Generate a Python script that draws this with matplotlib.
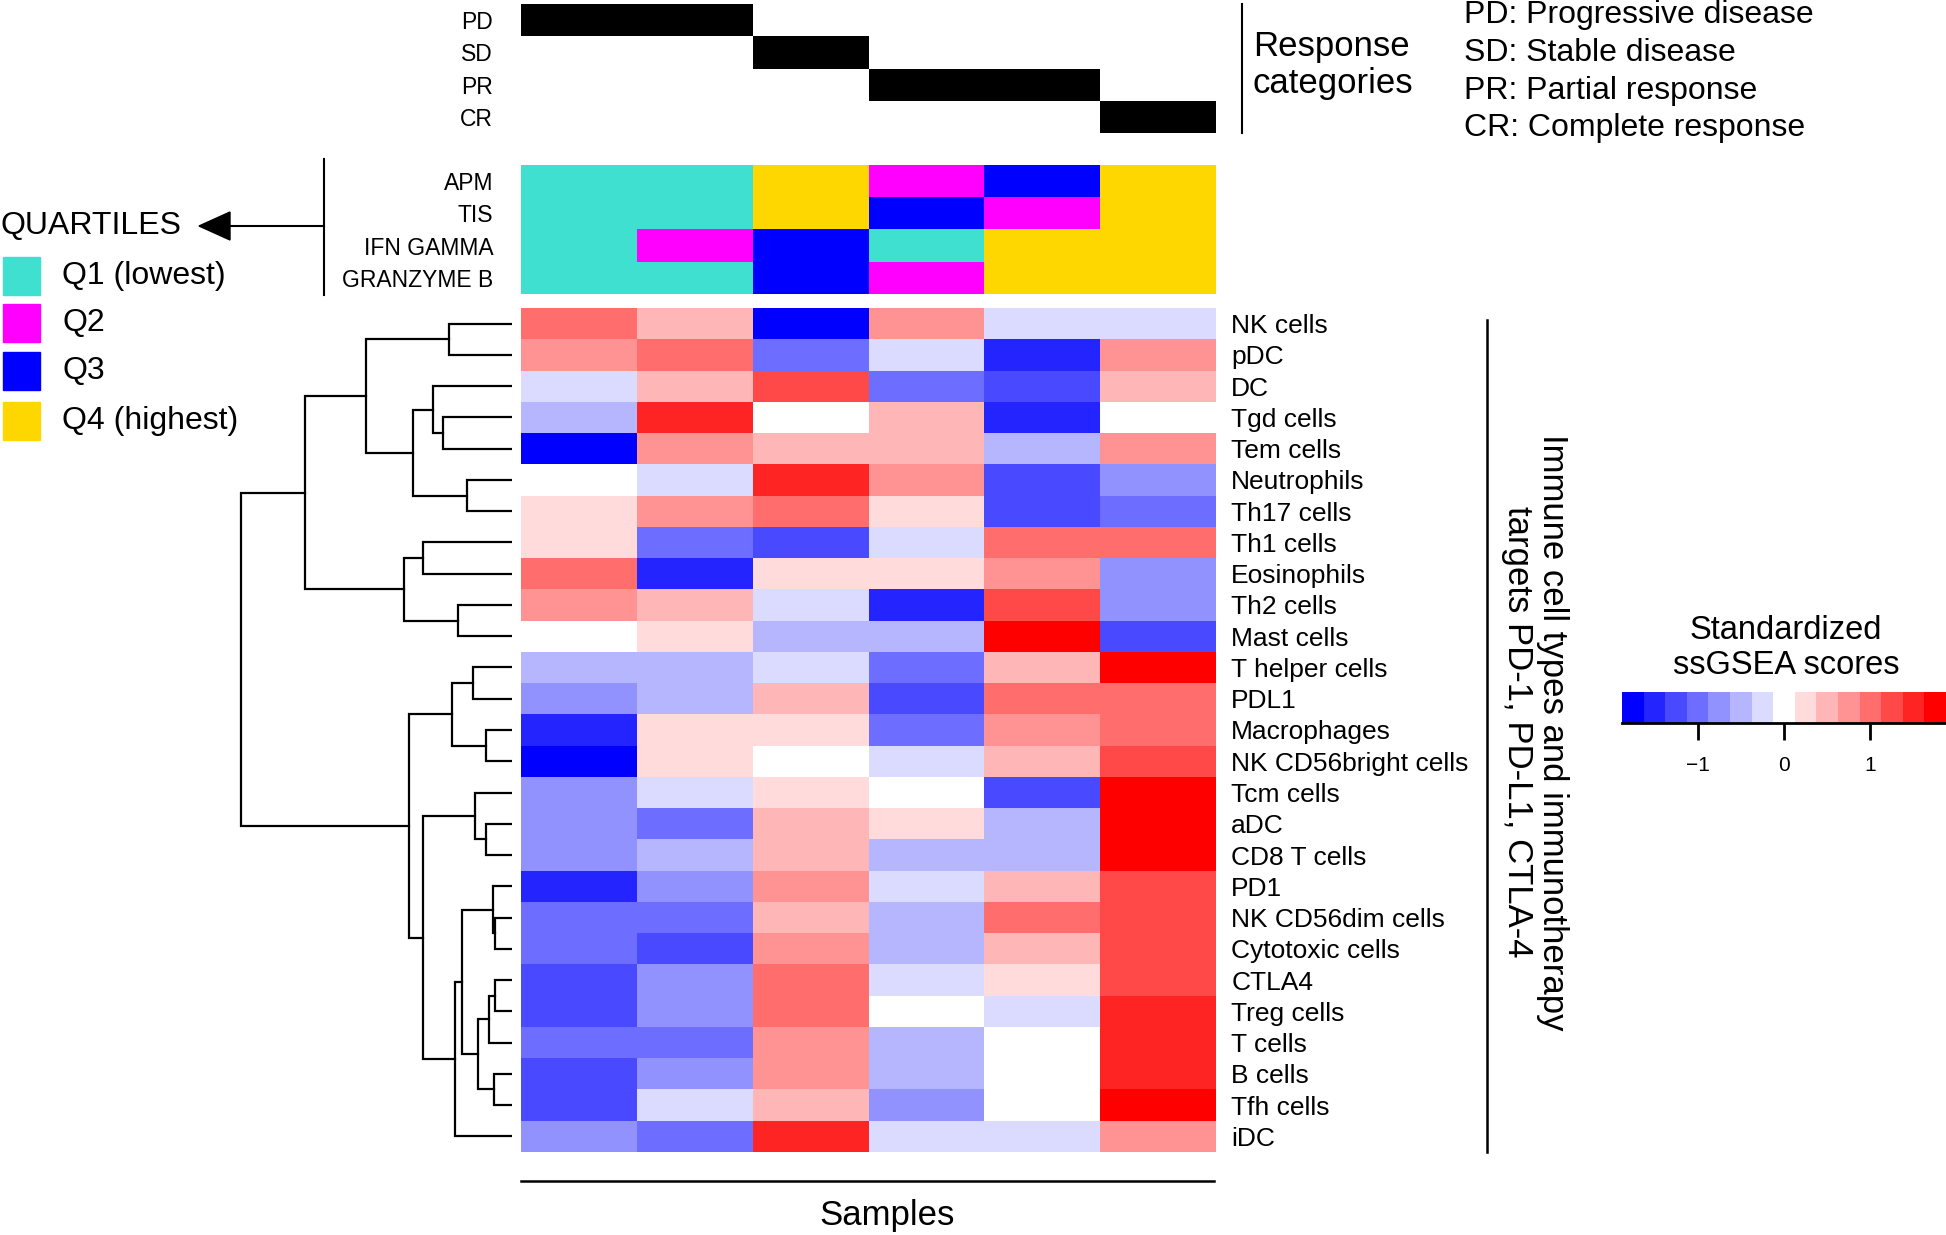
import matplotlib
matplotlib.use("Agg")
import matplotlib.pyplot as plt
import numpy as np
from matplotlib.colors import ListedColormap, BoundaryNorm, LinearSegmentedColormap
from matplotlib.patches import Rectangle, Polygon

plt.rcParams['font.family'] = ['Liberation Sans', 'DejaVu Sans']

W, H = 1946, 1235

# ---- data ----
cell_types = ["NK cells", "pDC", "DC", "Tgd cells", "Tem cells", "Neutrophils",
              "Th17 cells", "Th1 cells", "Eosinophils", "Th2 cells", "Mast cells",
              "T helper cells", "PDL1", "Macrophages", "NK CD56bright cells",
              "Tcm cells", "aDC", "CD8 T cells", "PD1", "NK CD56dim cells",
              "Cytotoxic cells", "CTLA4", "Treg cells", "T cells", "B cells",
              "Tfh cells", "iDC"]

response_codes = ["PD", "SD", "PR", "CR"]
response_names = ["Progressive disease", "Stable disease", "Partial response",
                  "Complete response"]
sample_response = ["PD", "PD", "SD", "PR", "PR", "CR"]

quartile_vars = ["APM", "TIS", "IFN GAMMA", "GRANZYME B"]
apm = [1, 1, 4, 2, 3, 4]
tis = [1, 1, 4, 3, 2, 4]
ifn_gamma = [1, 2, 3, 1, 4, 4]
granzyme_b = [1, 1, 3, 2, 4, 4]
quartile_labels = ["Q1 (lowest)", "Q2", "Q3", "Q4 (highest)"]
quartile_colors = ["#40E0D0", "#FF00FF", "#0000FF", "#FFD700"]

# standardized ssGSEA scores, rows = cell_types, cols = samples
scores = [
    [1.0, 0.5, -1.75, 0.75, -0.25, -0.25],
    [0.75, 1.0, -1.0, -0.25, -1.5, 0.75],
    [-0.25, 0.5, 1.25, -1.0, -1.25, 0.5],
    [-0.5, 1.5, 0.0, 0.5, -1.5, 0.0],
    [-1.75, 0.75, 0.5, 0.5, -0.5, 0.75],
    [0.0, -0.25, 1.5, 0.75, -1.25, -0.75],
    [0.25, 0.75, 1.0, 0.25, -1.25, -1.0],
    [0.25, -1.0, -1.25, -0.25, 1.0, 1.0],
    [1.0, -1.5, 0.25, 0.25, 0.75, -0.75],
    [0.75, 0.5, -0.25, -1.5, 1.25, -0.75],
    [0.0, 0.25, -0.5, -0.5, 1.75, -1.25],
    [-0.5, -0.5, -0.25, -1.0, 0.5, 1.75],
    [-0.75, -0.5, 0.5, -1.25, 1.0, 1.0],
    [-1.5, 0.25, 0.25, -1.0, 0.75, 1.0],
    [-1.75, 0.25, 0.0, -0.25, 0.5, 1.25],
    [-0.75, -0.25, 0.25, 0.0, -1.25, 1.75],
    [-0.75, -1.0, 0.5, 0.25, -0.5, 1.75],
    [-0.75, -0.5, 0.5, -0.5, -0.5, 1.75],
    [-1.5, -0.75, 0.75, -0.25, 0.5, 1.25],
    [-1.0, -1.0, 0.5, -0.5, 1.0, 1.25],
    [-1.0, -1.25, 0.75, -0.5, 0.5, 1.25],
    [-1.25, -0.75, 1.0, -0.25, 0.25, 1.25],
    [-1.25, -0.75, 1.0, 0.0, -0.25, 1.5],
    [-1.0, -1.0, 0.75, -0.5, 0.0, 1.5],
    [-1.25, -0.75, 0.75, -0.5, 0.0, 1.5],
    [-1.25, -0.25, 0.5, -0.75, 0.0, 1.75],
    [-0.75, -1.0, 1.5, -0.25, -0.25, 0.75],
]

# row dendrogram: (left, right, height), new nodes numbered from 27
merges = [
    (0, 1, 0.63), (3, 4, 0.69), (2, 28, 0.79), (5, 6, 0.45), (29, 30, 0.99),
    (27, 31, 1.46), (7, 8, 0.89), (9, 10, 0.54), (33, 34, 1.08), (32, 35, 2.07),
    (11, 12, 0.39), (13, 14, 0.26), (37, 38, 0.60), (16, 17, 0.26), (15, 40, 0.37),
    (19, 20, 0.17), (18, 42, 0.19), (21, 22, 0.17), (44, 23, 0.23), (24, 25, 0.18),
    (45, 46, 0.34), (43, 47, 0.50), (48, 26, 0.57), (41, 49, 0.89), (39, 50, 1.03),
    (36, 51, 2.71),
]

score_bounds = np.arange(-1.875, 1.876, 0.25)


def rect(x0, y0, x1, y1):
    return [x0 / W, 1 - y1 / H, (x1 - x0) / W, (y1 - y0) / H]


fig = plt.figure(figsize=(W / 100, H / 100), dpi=100)

# overlay in pixel coords for decorations
ov = fig.add_axes([0, 0, 1, 1])
ov.set_xlim(0, W)
ov.set_ylim(H, 0)
ov.axis('off')

n_rows = len(cell_types)
n_cols = len(sample_response)

# ---- heatmap ----
cmap = LinearSegmentedColormap.from_list('bwr15', ['#0000FF', '#FFFFFF', '#FF0000'], N=15)
norm = BoundaryNorm(score_bounds, 15)
hax = fig.add_axes(rect(521, 308, 1216, 1152))
hax.pcolormesh(np.array(scores), cmap=cmap, norm=norm)
hax.set_xlim(0, n_cols)
hax.set_ylim(n_rows, 0)
hax.set_xticks([])
hax.yaxis.tick_right()
hax.set_yticks(np.arange(n_rows) + 0.5, cell_types, fontsize=19)
hax.tick_params(axis='y', length=0, pad=11)
for s in hax.spines.values():
    s.set_visible(False)

# ---- response annotation ----
resp = np.array([[1 if r == c else 0 for r in sample_response] for c in response_codes])
rax = fig.add_axes(rect(521, 4, 1216, 133))
rax.pcolormesh(resp, cmap=ListedColormap(['white', 'black']), vmin=0, vmax=1)
rax.set_xlim(0, n_cols)
rax.set_ylim(len(response_codes), 0)
rax.set_xticks([])
rax.set_yticks(np.arange(len(response_codes)) + 0.5, response_codes, fontsize=16.5)
rax.tick_params(axis='y', length=0, pad=20)
for s in rax.spines.values():
    s.set_visible(False)

# ---- quartile annotation ----
quart = np.array([apm, tis, ifn_gamma, granzyme_b])
qax = fig.add_axes(rect(521, 165, 1216, 294))
qax.pcolormesh(quart, cmap=ListedColormap(quartile_colors),
               norm=BoundaryNorm([0.5, 1.5, 2.5, 3.5, 4.5], 4))
qax.set_xlim(0, n_cols)
qax.set_ylim(len(quartile_vars), 0)
qax.set_xticks([])
qax.set_yticks(np.arange(len(quartile_vars)) + 0.5, quartile_vars, fontsize=16.5)
qax.tick_params(axis='y', length=0, pad=20)
for s in qax.spines.values():
    s.set_visible(False)

# ---- row dendrogram ----
dax = fig.add_axes(rect(230, 308, 512, 1152))
pos = {i: i + 0.5 for i in range(n_rows)}
hgt = {i: 0.0 for i in range(n_rows)}
for k, (a, b, h) in enumerate(merges):
    node = n_rows + k
    dax.plot([hgt[a], h, h, hgt[b]], [pos[a], pos[a], pos[b], pos[b]],
             color='black', lw=1.6, solid_joinstyle='miter')
    pos[node] = (pos[a] + pos[b]) / 2
    hgt[node] = h
dax.set_xlim(2.82, 0)
dax.set_ylim(n_rows, 0)
dax.axis('off')

# ---- colour key ----
cax = fig.add_axes(rect(1622, 692, 1946, 723))
cax.pcolormesh(score_bounds, [0, 1], ((score_bounds[:-1] + score_bounds[1:]) / 2)[None, :],
               cmap=cmap, norm=norm)
cax.set_xlim(score_bounds[0], score_bounds[-1])
cax.set_ylim(0, 1)
cax.set_yticks([])
cax.set_xticks([-1, 0, 1], ['\u22121', '0', '1'], fontsize=15)
cax.tick_params(axis='x', length=12, width=2, pad=12)
for k in ['top', 'left', 'right']:
    cax.spines[k].set_visible(False)
cax.spines['bottom'].set_linewidth(2)
ov.text(1786, 648, "Standardized\nssGSEA scores", fontsize=23.5, ha='center', va='center',
        linespacing=1.15)

# ---- decorations ----
ov.plot([1242, 1242], [4, 133], color='black', lw=1.5)
ov.text(1253, 65, "Response\ncategories", fontsize=25, ha='left', va='center', linespacing=1.17)
for i, (c, nm) in enumerate(zip(response_codes, response_names)):
    ov.text(1464, 15 + i * 37.8, f"{c}: {nm}", fontsize=23, ha='left', va='center')

ov.plot([324, 324], [159, 295], color='black', lw=1.5)
ov.plot([228, 324], [226, 226], color='black', lw=1.5)
ov.add_patch(Polygon([(199, 226), (230, 212), (230, 240)], closed=True, color='black'))
ov.text(0, 226, "QUARTILES", fontsize=23, ha='left', va='center')
legend_y = [276, 323, 371, 421]
for lab, col, y in zip(quartile_labels, quartile_colors, legend_y):
    ov.add_patch(Rectangle((3, y - 19), 37, 38, color=col))
    ov.text(62, y, lab, fontsize=23, ha='left', va='center')

ov.plot([1487, 1487], [320, 1152], color='black', lw=1.8)
ov.text(1535, 732, "Immune cell types and immunotherapy\ntargets PD-1, PD-L1, CTLA-4",
        rotation=270, fontsize=25, ha='center', va='center', multialignment='center',
        linespacing=1.05)

ov.plot([521, 1214], [1181, 1181], color='black', lw=1.8)
ov.text(887, 1216, "Samples", fontsize=25, ha='center', va='center')

fig.savefig("out.png", dpi=100)
